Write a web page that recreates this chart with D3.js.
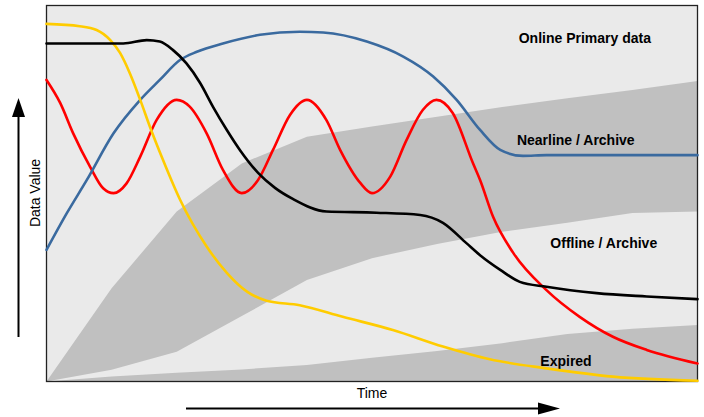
<!DOCTYPE html>
<html>
<head>
<meta charset="utf-8">
<script src="https://cdn.jsdelivr.net/npm/d3@7"></script>
<style>
  html, body { margin: 0; padding: 0; background: #ffffff; }
  svg { display: block; }
</style>
</head>
<body>
<svg id="chart" width="704" height="417"></svg>
<script>
// ---------- DATA ----------
// band boundaries, sampled at time steps 0..10
const bandTime = [0, 1, 2, 3, 4, 5, 6, 7, 8, 9, 10];
const onlineNearlineEdge = [0, 24.8, 45.2, 58.0, 65.1, 67.8, 70.4, 73.0, 75.3, 77.5, 79.9];
const nearlineOfflineEdge = [0, 3.1, 7.9, 17.4, 27.0, 32.8, 36.6, 39.8, 42.2, 44.8, 45.2];
const offlineExpiredEdge = [0, 1.3, 2.3, 3.2, 4.4, 6.3, 8.1, 10.2, 12.6, 14.0, 15.0];

const bandLabels = ["Online Primary data", "Nearline / Archive", "Offline / Archive", "Expired"];

// yellow curve
const yellowTime = [0, 0.51, 0.77, 0.98, 1.13, 1.28, 1.44, 1.59, 1.79, 2.05, 2.46, 2.77, 3.08, 3.38, 3.89, 4.55, 5.32, 6.09, 6.81, 7.68, 8.70, 10];
const yellowValue = [95.1, 94.5, 93.5, 90.8, 87.4, 82.0, 74.9, 67.7, 58.9, 48.4, 35.9, 28.9, 23.9, 21.5, 20.3, 17.2, 13.7, 9.3, 5.9, 3.5, 1.3, 0.2];

// black curve
const blackTime = [0, 1.18, 1.54, 1.74, 1.94, 2.15, 2.36, 2.56, 2.77, 2.97, 3.25, 3.51, 3.79, 4.30, 5.07, 5.74, 6.09, 6.45, 6.66, 6.97, 7.27, 7.68, 8.45, 9.22, 10];
const blackValue = [89.9, 89.9, 90.8, 90.4, 88.2, 84.6, 79.4, 73.0, 66.9, 61.6, 55.5, 51.5, 48.5, 45.2, 44.9, 44.3, 42.2, 36.8, 33.6, 29.7, 26.5, 25.2, 23.5, 22.6, 21.9];

// blue curve
const blueTime = [0, 0.31, 0.62, 1.03, 1.44, 1.74, 2.05, 2.31, 2.71, 3.28, 3.89, 4.25, 4.92, 5.48, 5.94, 6.30, 6.66, 6.97, 7.32, 7.68, 10];
const blueValue = [35.0, 44.7, 53.6, 66.0, 74.9, 80.2, 85.5, 87.7, 89.9, 92.2, 93.0, 92.8, 90.4, 86.4, 81.1, 74.9, 66.9, 61.6, 60.0, 60.2, 60.2];

// red curve
const redTime = [0, 0.21, 0.41, 0.67, 0.87, 1.03, 1.23, 1.44, 1.69, 2.00, 2.20, 2.46, 2.71, 3.00, 3.25, 3.48, 3.74, 4.00, 4.30, 4.51, 4.82, 5.00, 5.28, 5.53, 5.78, 5.99, 6.24, 6.55, 6.66, 6.86, 7.17, 7.68, 8.19, 8.70, 9.22, 10];
const redValue = [80.2, 74.1, 66.0, 57.1, 51.4, 50.1, 52.7, 59.8, 69.5, 74.9, 73.1, 66.0, 56.3, 50.1, 53.6, 61.6, 70.9, 74.9, 69.5, 61.6, 52.8, 50.1, 54.5, 64.2, 72.2, 74.9, 71.4, 58.1, 53.6, 43.8, 34.2, 24.3, 17.2, 11.9, 8.4, 4.8];

const axisTitleX = "Time";
const axisTitleY = "Data Value";

// ---------- DRAW ----------
(function () {
const svg = d3.select("#chart");
const pLeft = 46.5, pRight = 697.5, pTop = 5.5, pBottom = 381.5;

const x = d3.scaleLinear().domain([0, 10]).range([pLeft, pRight]);
const y = d3.scaleLinear().domain([0, 100]).range([pBottom, pTop]);

const LIGHT = "#eaeaea", DARK = "#c0c0c0";

// background (online region)
svg.append("rect")
  .attr("x", pLeft).attr("y", pTop)
  .attr("width", pRight - pLeft).attr("height", pBottom - pTop)
  .attr("fill", LIGHT);

const bandRows = bandTime.map((t, i) => ({
  t, a: onlineNearlineEdge[i], b: nearlineOfflineEdge[i], c: offlineExpiredEdge[i]
}));

// nearline band
svg.append("path")
  .datum(bandRows)
  .attr("fill", DARK)
  .attr("d", d3.area().x(d => x(d.t)).y0(d => y(d.b)).y1(d => y(d.a)));

// expired band
svg.append("path")
  .datum(bandRows)
  .attr("fill", DARK)
  .attr("d", d3.area().x(d => x(d.t)).y0(() => y(0)).y1(d => y(d.c)));

// border
svg.append("rect")
  .attr("x", pLeft).attr("y", pTop)
  .attr("width", pRight - pLeft).attr("height", pBottom - pTop)
  .attr("fill", "none").attr("stroke", "#222").attr("stroke-width", 1.3);

// band labels
const labelPos = [[8.27, 91.4], [8.13, 64.2], [8.56, 36.8], [7.98, 5.5]];
svg.selectAll("text.band")
  .data(bandLabels)
  .enter().append("text")
  .attr("class", "band")
  .attr("x", (d, i) => x(labelPos[i][0]))
  .attr("y", (d, i) => y(labelPos[i][1]))
  .attr("text-anchor", "middle")
  .attr("dominant-baseline", "central")
  .attr("font-family", "Liberation Sans, Arial, sans-serif")
  .attr("font-weight", "bold")
  .attr("font-size", 14)
  .attr("fill", "#000")
  .text(d => d);

// curves
const series = [
  { t: redTime, v: redValue, color: "#ff0000" },
  { t: blueTime, v: blueValue, color: "#3a6a9f" },
  { t: yellowTime, v: yellowValue, color: "#ffcc00" },
  { t: blackTime, v: blackValue, color: "#000000" }
];
const line = d3.line().x(d => x(d[0])).y(d => y(d[1])).curve(d3.curveMonotoneX);
series.forEach(s => {
  svg.append("path")
    .datum(s.t.map((t, i) => [t, s.v[i]]))
    .attr("fill", "none")
    .attr("stroke", s.color)
    .attr("stroke-width", 2.6)
    .attr("stroke-linejoin", "round")
    .attr("stroke-linecap", "round")
    .attr("d", line);
});

// axis titles
svg.append("text")
  .attr("x", 372).attr("y", 393)
  .attr("text-anchor", "middle").attr("dominant-baseline", "central")
  .attr("font-family", "Liberation Sans, Arial, sans-serif")
  .attr("font-size", 14).attr("fill", "#000")
  .text(axisTitleX);

svg.append("text")
  .attr("transform", "translate(35,193) rotate(-90)")
  .attr("text-anchor", "middle").attr("dominant-baseline", "central")
  .attr("font-family", "Liberation Sans, Arial, sans-serif")
  .attr("font-size", 14).attr("fill", "#000")
  .text(axisTitleY);

// arrows
svg.append("line")
  .attr("x1", 18.5).attr("y1", 337).attr("x2", 18.5).attr("y2", 114)
  .attr("stroke", "#000").attr("stroke-width", 2);
svg.append("path")
  .attr("d", "M18.5,98 L12,117 L25,117 Z").attr("fill", "#000");

svg.append("line")
  .attr("x1", 186).attr("y1", 408.5).attr("x2", 541).attr("y2", 408.5)
  .attr("stroke", "#000").attr("stroke-width", 2);
svg.append("path")
  .attr("d", "M560,408.5 L538,402.5 L538,414.5 Z").attr("fill", "#000");
})();
</script>
</body>
</html>
